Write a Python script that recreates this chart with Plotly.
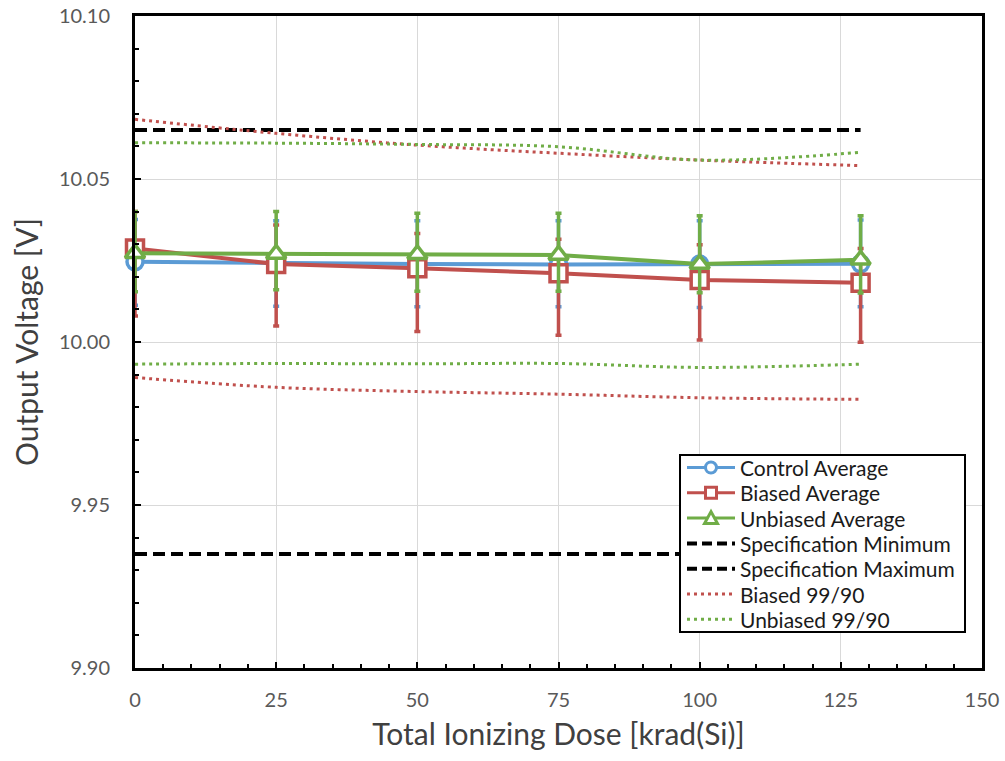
import plotly.graph_objects as go

dose = [0, 25, 50, 75, 100, 128.5]

control_avg = [10.0246, 10.0241, 10.0239, 10.0238, 10.0239, 10.0240]
control_hi = [10.0376, 10.0372, 10.0372, 10.0372, 10.0372, 10.0374]
control_lo = [10.0113, 10.0110, 10.0108, 10.0108, 10.0106, 10.0108]

biased_avg = [10.0287, 10.0239, 10.0226, 10.0211, 10.0190, 10.0182]
biased_hi = [10.0400, 10.0359, 10.0333, 10.0315, 10.0298, 10.0287]
biased_lo = [10.0080, 10.0049, 10.0032, 10.0021, 10.0006, 9.9999]

unbiased_avg = [10.0272, 10.0270, 10.0269, 10.0267, 10.0239, 10.0252]
unbiased_hi = [10.0400, 10.0400, 10.0395, 10.0395, 10.0387, 10.0387]
unbiased_lo = [10.0154, 10.0160, 10.0156, 10.0156, 10.0151, 10.0150]

spec_min = [9.935] * len(dose)
spec_max = [10.065] * len(dose)

biased_9990_hi = [10.0683, 10.0640, 10.0604, 10.0579, 10.0558, 10.0541]
biased_9990_lo = [9.9891, 9.9861, 9.9848, 9.9840, 9.9829, 9.9824]
unbiased_9990_hi = [10.0611, 10.0610, 10.0606, 10.0599, 10.0558, 10.0582]
unbiased_9990_lo = [9.9932, 9.9934, 9.9933, 9.9934, 9.9922, 9.9932]

legend_labels = ["Control Average", "Biased Average", "Unbiased Average",
                 "Specification Minimum", "Specification Maximum",
                 "Biased 99/90", "Unbiased 99/90"]

BLUE = "#5B9BD5"
RED = "#C0504D"
GREEN = "#70AD47"
FONT = "Lato"

# plot area in pixels
L, R, T, B = 135, 982, 16, 668
W, H = 1005, 761

def px(xp):
    return (xp - L) / (R - L)

def py(yp):
    return (B - yp) / (B - T)

def errs(avg, hi, lo):
    plus = [h - a for a, h in zip(avg, hi)]
    minus = [a - l for a, l in zip(avg, lo)]
    return plus, minus

fig = go.Figure()

def avg_trace(name, avg, hi, lo, color, symbol, size):
    plus, minus = errs(avg, hi, lo)
    fig.add_trace(go.Scatter(
        x=dose, y=avg, name=name, mode="lines+markers", cliponaxis=False,
        line=dict(color=color, width=4),
        marker=dict(symbol=symbol, size=size, color="white",
                    line=dict(color=color, width=3.5)),
        error_y=dict(type="data", symmetric=False, array=plus, arrayminus=minus,
                     color=color, thickness=3.5, width=3),
    ))

avg_trace("Control Average", control_avg, control_hi, control_lo, BLUE, "circle", 16)
avg_trace("Biased Average", biased_avg, biased_hi, biased_lo, RED, "square", 17)
avg_trace("Unbiased Average", unbiased_avg, unbiased_hi, unbiased_lo, GREEN, "triangle-up", 17)

fig.add_trace(go.Scatter(x=dose, y=spec_min, name="Specification Minimum", mode="lines",
                         line=dict(color="black", width=4, dash="12px,6px")))
fig.add_trace(go.Scatter(x=dose, y=spec_max, name="Specification Maximum", mode="lines",
                         line=dict(color="black", width=4, dash="12px,6px")))

for ys, c, nm in [(biased_9990_hi, RED, "Biased 99/90"), (biased_9990_lo, RED, "Biased 99/90"),
                  (unbiased_9990_hi, GREEN, "Unbiased 99/90"), (unbiased_9990_lo, GREEN, "Unbiased 99/90")]:
    fig.add_trace(go.Scatter(x=dose, y=ys, name=nm, mode="lines",
                             line=dict(color=c, width=3, dash="3px,4px", shape="spline")))

# ---- custom legend (box, samples, text) ----
shapes = []
annotations = []
LX0, LY0, LX1, LY1 = 680, 455, 965, 632
shapes.append(dict(type="rect", xref="paper", yref="paper",
                   x0=px(LX0), x1=px(LX1), y0=py(LY1), y1=py(LY0),
                   line=dict(color="black", width=2), fillcolor="white", layer="above"))
styles = [
    dict(color=BLUE, width=3, dash="solid", marker="circle"),
    dict(color=RED, width=3, dash="solid", marker="square"),
    dict(color=GREEN, width=3, dash="solid", marker="triangle"),
    dict(color="black", width=4, dash="10px,5px", marker=None),
    dict(color="black", width=4, dash="10px,5px", marker=None),
    dict(color=RED, width=3, dash="3px,4px", marker=None),
    dict(color=GREEN, width=3, dash="3px,4px", marker=None),
]
row0, step = 467.5, 25.3
sx0, sx1, tx = 687, 735, 738
for i, (lab, st) in enumerate(zip(legend_labels, styles)):
    yc = row0 + i * step
    shapes.append(dict(type="line", xref="paper", yref="paper",
                       x0=px(sx0), x1=px(sx1), y0=py(yc), y1=py(yc),
                       line=dict(color=st["color"], width=st["width"], dash=st["dash"]),
                       layer="above"))
    mx = (sx0 + sx1) / 2
    r = 5.5
    if st["marker"] == "circle":
        shapes.append(dict(type="circle", xref="paper", yref="paper",
                           x0=px(mx - r), x1=px(mx + r), y0=py(yc + r), y1=py(yc - r),
                           line=dict(color=st["color"], width=3), fillcolor="white", layer="above"))
    elif st["marker"] == "square":
        shapes.append(dict(type="rect", xref="paper", yref="paper",
                           x0=px(mx - r), x1=px(mx + r), y0=py(yc + r), y1=py(yc - r),
                           line=dict(color=st["color"], width=3), fillcolor="white", layer="above"))
    elif st["marker"] == "triangle":
        p = "M {} {} L {} {} L {} {} Z".format(px(mx), py(yc - r - 1), px(mx - r - 1), py(yc + r),
                                               px(mx + r + 1), py(yc + r))
        shapes.append(dict(type="path", xref="paper", yref="paper", path=p,
                           line=dict(color=st["color"], width=3), fillcolor="white", layer="above"))
    annotations.append(dict(xref="paper", yref="paper", x=px(tx), y=py(yc),
                            xanchor="left", yanchor="middle", showarrow=False,
                            text=lab, font=dict(family=FONT, size=21, color="#1a1a1a")))

fig.update_layout(
    width=W, height=H,
    margin=dict(l=L, r=W - R, t=T, b=H - B),
    paper_bgcolor="white", plot_bgcolor="white",
    font=dict(family=FONT, color="#404040"),
    showlegend=False,
    shapes=shapes, annotations=annotations,
)

fig.update_xaxes(
    range=[0, 150], tickvals=[0, 25, 50, 75, 100, 125, 150],
    automargin=False,
    showgrid=True, gridcolor="#D9D9D9", gridwidth=1,
    showline=True, linecolor="black", linewidth=3, mirror=True,
    ticks="inside", ticklen=6, tickwidth=2, tickcolor="black",
    minor=dict(dtick=5, ticks="inside", ticklen=4, tickwidth=2, tickcolor="black", showgrid=False),
    tickfont=dict(family=FONT, size=20, color="#595959"),
    ticklabelstandoff=12,
    zeroline=False,
    title=dict(text="Total Ionizing Dose [krad(Si)]", font=dict(family=FONT, size=30, color="#404040"), standoff=14),
)
fig.update_yaxes(
    range=[9.90, 10.10], tickvals=[9.90, 9.95, 10.00, 10.05, 10.10], tickformat=".2f",
    automargin=False,
    showgrid=True, gridcolor="#D9D9D9", gridwidth=1,
    showline=True, linecolor="black", linewidth=3, mirror=True,
    ticks="inside", ticklen=6, tickwidth=2, tickcolor="black",
    minor=dict(dtick=0.01, ticks="inside", ticklen=4, tickwidth=2, tickcolor="black", showgrid=False),
    tickfont=dict(family=FONT, size=20, color="#595959"),
    ticklabelstandoff=18,
    zeroline=False,
    title=dict(text="Output Voltage [V]", font=dict(family=FONT, size=30, color="#404040"), standoff=12),
)

fig.write_html("out.html")
